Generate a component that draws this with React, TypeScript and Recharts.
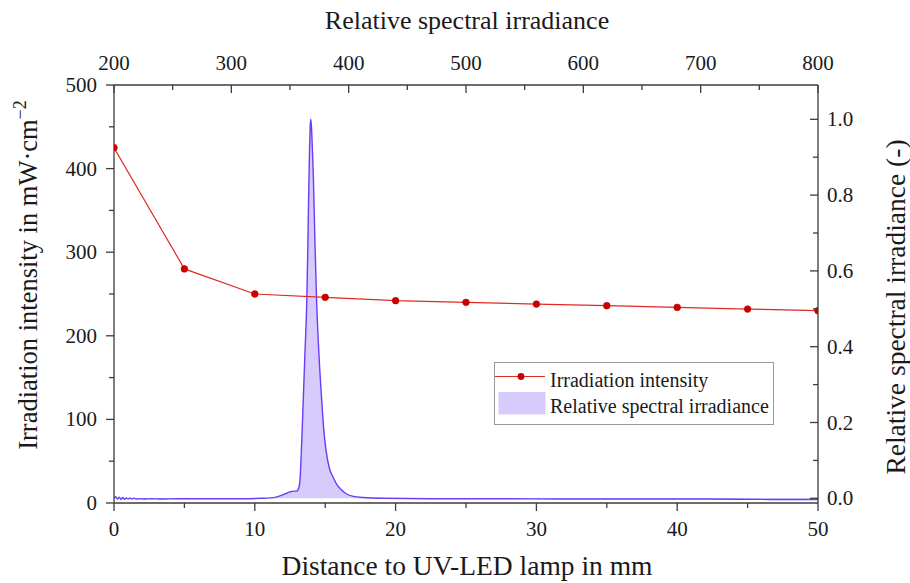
import React from 'react';
import { ComposedChart, Line, Area, XAxis, YAxis, Legend, Label } from 'recharts';

const FONT = '"Liberation Serif", "Times New Roman", serif';

// Irradiation intensity vs distance (bottom / left axes)
const distances = [0, 5, 10, 15, 20, 25, 30, 35, 40, 45, 50];
const intensity = [425, 280, 250, 246, 242, 240, 238, 236, 234, 232, 230];

// Relative spectral irradiance vs wavelength (top / right axes)
const wavelengths = [
  200, 201.5, 203, 204.5, 206, 207.5, 209, 210.5, 212, 213.5, 215, 217, 219, 222, 226, 232, 240, 255, 270, 290,
  310, 325, 333, 338, 342, 346, 350, 353, 355.7, 357.5, 358.5, 360, 361.3, 362.7, 364.2, 365, 365.8, 366.6, 367.2,
  367.7, 368.3, 369.1, 369.9, 371.3, 372.8, 374.5, 377, 378.8, 380.7, 383.5, 386.9, 390, 394, 398, 404, 412, 430,
  470, 520, 580, 640, 700, 760, 800,
];
const relIrradiance = [
  0.0, 0.004, -0.002, 0.003, -0.003, 0.002, -0.003, 0.001, -0.002, 0.001, -0.002, 0.0, -0.002, -0.001, -0.002,
  -0.001, -0.002, -0.001, -0.001, -0.001, -0.001, 0.0, 0.001, 0.003, 0.007, 0.012, 0.017, 0.019, 0.019, 0.028, 0.048,
  0.15, 0.26, 0.38, 0.51, 0.63, 0.78, 0.91, 0.98, 1.0, 0.98, 0.92, 0.85, 0.67, 0.51, 0.39, 0.26, 0.18, 0.127, 0.08,
  0.055, 0.036, 0.022, 0.012, 0.005, 0.002, 0.0, -0.001, -0.001, -0.002, -0.002, -0.002, -0.003, -0.003,
];

const bottomTicks = [0, 5, 10, 15, 20, 25, 30, 35, 40, 45, 50];
const bottomMajor = [0, 10, 20, 30, 40, 50];
const topTicks = [200, 250, 300, 350, 400, 450, 500, 550, 600, 650, 700, 750, 800];
const topMajor = [200, 300, 400, 500, 600, 700, 800];
const leftTicks = [0, 50, 100, 150, 200, 250, 300, 350, 400, 450, 500];
const leftMajor = [0, 100, 200, 300, 400, 500];
const rightTicks = [0, 0.1, 0.2, 0.3, 0.4, 0.5, 0.6, 0.7, 0.8, 0.9, 1.0];
const rightMajor = [0, 0.2, 0.4, 0.6, 0.8, 1.0];

const irrData = distances.map((d, i) => ({ dist: d, irr: intensity[i] }));
const specData = wavelengths.map((w, i) => ({ wl: w, rel: relIrradiance[i] }));

const AXIS = '#3c3c3c';
const TXT = '#1a1a1a';
const RED_LINE = '#e02a24';
const RED_DOT = '#c80000';
const PURPLE = '#6a3cf6';
const LAVENDER = '#d6cbfb';

type Orient = 'top' | 'bottom' | 'left' | 'right';

function makeTick(orient: Orient, major: number[], fmt: (v: number) => string) {
  return (props: any) => {
    const { x, y, payload } = props;
    const v = payload.value as number;
    const isMajor = major.some((m) => Math.abs(m - v) < 1e-6);
    const len = isMajor ? 8 : 5;
    let line: any = null;
    let text: any = null;
    const common = { fontFamily: FONT, fontSize: 21, fill: TXT };
    if (orient === 'bottom') {
      line = <line x1={x} y1={y} x2={x} y2={y + len} stroke={AXIS} strokeWidth={1.3} />;
      text = <text x={x} y={y + 33} textAnchor="middle" {...common}>{fmt(v)}</text>;
    } else if (orient === 'top') {
      line = <line x1={x} y1={y} x2={x} y2={y + len} stroke={AXIS} strokeWidth={1.3} />;
      text = <text x={x} y={y - 15} textAnchor="middle" {...common}>{fmt(v)}</text>;
    } else if (orient === 'left') {
      line = <line x1={x - len} y1={y} x2={x} y2={y} stroke={AXIS} strokeWidth={1.3} />;
      text = <text x={x - 17} y={y + 7} textAnchor="end" {...common}>{fmt(v)}</text>;
    } else {
      line = <line x1={x - len} y1={y} x2={x} y2={y} stroke={AXIS} strokeWidth={1.3} />;
      text = <text x={x + 9} y={y + 7} textAnchor="start" {...common}>{fmt(v)}</text>;
    }
    return (
      <g>
        {line}
        {isMajor ? text : null}
      </g>
    );
  };
}

const bottomTick = makeTick('bottom', bottomMajor, (v) => String(v));
const topTick = makeTick('top', topMajor, (v) => String(v));
const leftTick = makeTick('left', leftMajor, (v) => String(v));
const rightTick = makeTick('right', rightMajor, (v) => v.toFixed(1));

const BottomTitle = (props: any) => {
  const vb = props.viewBox || { x: 114, y: 503, width: 704, height: 80 };
  return (
    <text x={vb.x + vb.width / 2 + 1} y={vb.y + 72} textAnchor="middle" fontFamily={FONT} fontSize={27.5} fill={TXT}>
      Distance to UV-LED lamp in mm
    </text>
  );
};

const TopTitle = (props: any) => {
  const vb = props.viewBox || { x: 114, y: 0, width: 704, height: 85 };
  return (
    <text x={vb.x + vb.width / 2 + 1} y={vb.y + 29} textAnchor="middle" fontFamily={FONT} fontSize={26} fill={TXT}>
      Relative spectral irradiance
    </text>
  );
};

const LeftTitle = (props: any) => {
  const vb = props.viewBox || { x: 0, y: 85, width: 114, height: 418 };
  const cx = vb.x + 37;
  const cy = vb.y + vb.height / 2 - 19;
  return (
    <text
      x={cx}
      y={cy}
      textAnchor="middle"
      transform={`rotate(-90, ${cx}, ${cy})`}
      fontFamily={FONT}
      fontSize={26.5}
      fill={TXT}
    >
      Irradiation intensity in mW·cm
      <tspan dy={-11} fontSize={18}>−2</tspan>
    </text>
  );
};

const RightTitle = (props: any) => {
  const vb = props.viewBox || { x: 818, y: 85, width: 92, height: 418 };
  const cx = vb.x + 87;
  const cy = vb.y + vb.height / 2 + 13;
  return (
    <text
      x={cx}
      y={cy}
      textAnchor="middle"
      transform={`rotate(-90, ${cx}, ${cy})`}
      fontFamily={FONT}
      fontSize={27.5}
      fill={TXT}
    >
      Relative spectral irradiance (-)
    </text>
  );
};

const renderLegend = (props: any) => {
  const payload: any[] = props.payload || [];
  const lineEntry = payload.find((p) => p.dataKey === 'irr');
  const areaEntry = payload.find((p) => p.dataKey === 'rel');
  return (
    <svg width={281} height={64} style={{ display: 'block' }}>
      <rect x={0.5} y={0.5} width={279} height={62} fill="#ffffff" stroke="#9a9a9a" strokeWidth={1} />
      {lineEntry && (
        <g>
          <line x1={1} y1={14.5} x2={51} y2={14.5} stroke={RED_LINE} strokeWidth={1.2} />
          <circle cx={27} cy={14.5} r={3.4} fill={RED_DOT} />
          <text x={56} y={24.5} fontFamily={FONT} fontSize={20} fill={TXT}>
            {lineEntry.value}
          </text>
        </g>
      )}
      {areaEntry && (
        <g>
          <rect x={4.5} y={30} width={47} height={22.5} fill={LAVENDER} />
          <text x={56} y={51} fontFamily={FONT} fontSize={20} fill={TXT}>
            {areaEntry.value}
          </text>
        </g>
      )}
    </svg>
  );
};

export default function App() {
  return (
    <div style={{ position: 'absolute', left: 0, top: 0, width: 910, height: 583, background: '#ffffff' }}>
      <ComposedChart width={910} height={583} margin={{ top: 0, right: 0, bottom: 0, left: 0 }}>
        <XAxis
          xAxisId="bottom"
          dataKey="dist"
          type="number"
          orientation="bottom"
          domain={[0, 50]}
          ticks={bottomTicks}
          interval={0}
          height={80}
          allowDataOverflow
          tickSize={0}
          tickMargin={0}
          tickLine={false}
          tick={bottomTick}
          axisLine={{ stroke: AXIS, strokeWidth: 1.3 }}
        >
          <Label content={BottomTitle} />
        </XAxis>
        <XAxis
          xAxisId="top"
          dataKey="wl"
          type="number"
          orientation="top"
          domain={[200, 800]}
          ticks={topTicks}
          interval={0}
          height={85}
          allowDataOverflow
          tickSize={0}
          tickMargin={0}
          tickLine={false}
          tick={topTick}
          axisLine={{ stroke: AXIS, strokeWidth: 1.3 }}
        >
          <Label content={TopTitle} />
        </XAxis>
        <YAxis
          yAxisId="left"
          type="number"
          orientation="left"
          domain={[0, 500]}
          ticks={leftTicks}
          interval={0}
          width={114}
          allowDataOverflow
          tickSize={0}
          tickMargin={0}
          tickLine={false}
          tick={leftTick}
          axisLine={{ stroke: AXIS, strokeWidth: 1.3 }}
        >
          <Label content={LeftTitle} />
        </YAxis>
        <YAxis
          yAxisId="right"
          type="number"
          orientation="right"
          domain={[-0.0124, 1.0905]}
          ticks={rightTicks}
          interval={0}
          width={92}
          allowDataOverflow
          tickSize={0}
          tickMargin={0}
          tickLine={false}
          tick={rightTick}
          axisLine={{ stroke: AXIS, strokeWidth: 1.3 }}
        >
          <Label content={RightTitle} />
        </YAxis>
        <Area
          xAxisId="top"
          yAxisId="right"
          data={specData}
          dataKey="rel"
          name="Relative spectral irradiance"
          type="monotone"
          stroke={PURPLE}
          strokeWidth={1.4}
          fill={LAVENDER}
          fillOpacity={1}
          dot={false}
          activeDot={false}
          isAnimationActive={false}
        />
        <Line
          xAxisId="bottom"
          yAxisId="left"
          data={irrData}
          dataKey="irr"
          name="Irradiation intensity"
          type="linear"
          stroke={RED_LINE}
          strokeWidth={1.2}
          dot={{ r: 3.4, fill: RED_DOT, stroke: RED_DOT, strokeWidth: 0.5 }}
          activeDot={false}
          isAnimationActive={false}
        />
        <Legend
          layout="vertical"
          align="center"
          verticalAlign="middle"
          content={renderLegend}
          wrapperStyle={{ left: 494, top: 362, width: 281, height: 64 }}
        />
      </ComposedChart>
    </div>
  );
}
